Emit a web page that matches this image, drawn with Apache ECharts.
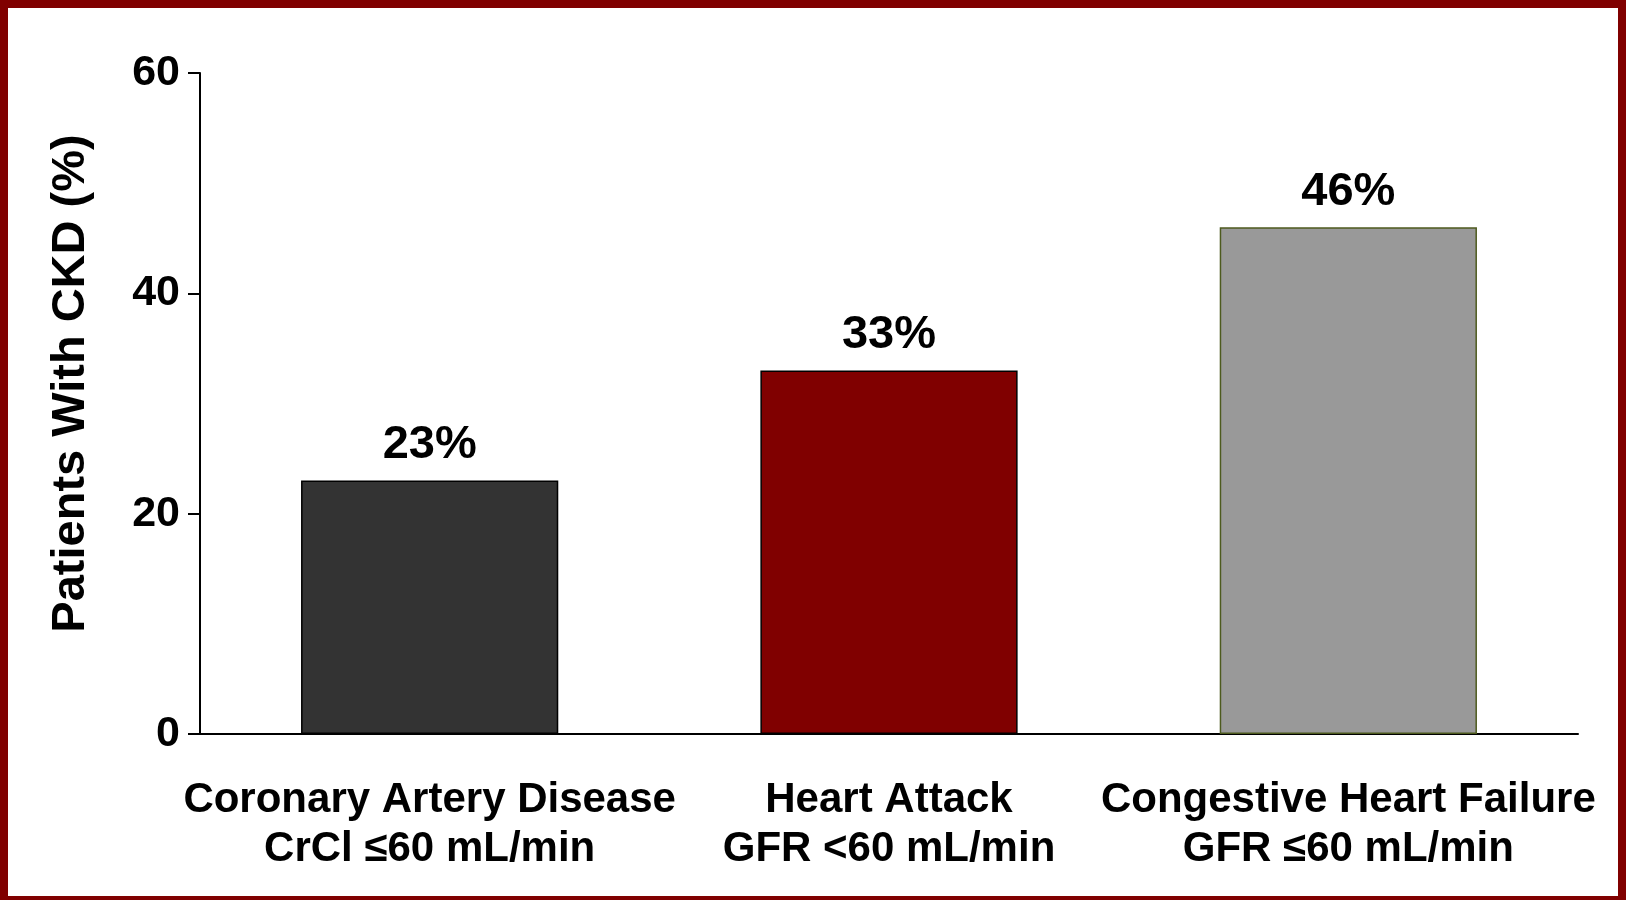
<!DOCTYPE html>
<html><head><meta charset="utf-8">
<script src="https://cdn.jsdelivr.net/npm/echarts@6/dist/echarts.min.js"></script>
<style>html,body{margin:0;padding:0;background:#fff}
#c{width:1626px;height:900px;box-sizing:border-box;border:8px solid #800000;border-bottom-width:4px}</style>
</head><body><div id="c"></div>
<script>
const categories = ["Coronary Artery Disease\nCrCl ≤60 mL/min", "Heart Attack\nGFR <60 mL/min", "Congestive Heart Failure\nGFR ≤60 mL/min"];
const values = [23, 33, 46];
const barColors = ["#333333", "#800000", "#999999"];
const barBorders = ["#000000", "#000000", "#4d5a1e"];
const yTicks = [0, 20, 40, 60];

const chart = echarts.init(document.getElementById("c"));
const font = "Liberation Sans, Arial, sans-serif";
chart.setOption({
  animation: false,
  grid: { left: 192, right: 40, top: 65, bottom: 162 },
  xAxis: {
    type: "category", data: categories,
    axisLine: { lineStyle: { color: "#000", width: 2 } },
    axisTick: { show: false },
    axisLabel: { color: "#000", fontFamily: font, fontWeight: "bold", fontSize: 42, lineHeight: 49, margin: 42, interval: 0 }
  },
  yAxis: {
    type: "value", min: 0, max: 60, interval: 20,
    name: "Patients With CKD (%)", nameLocation: "middle", nameGap: 105,
    nameTextStyle: { color: "#000", fontFamily: font, fontWeight: "bold", fontSize: 47, padding: [0, 0, 0, 40] },
    splitLine: { show: false },
    axisLine: { show: true, lineStyle: { color: "#000", width: 2 } },
    axisTick: { show: true, length: 12, lineStyle: { width: 2 } },
    axisLabel: { color: "#000", fontFamily: font, fontWeight: "bold", fontSize: 43, margin: 20,
      formatter: v => yTicks.includes(v) ? String(v) : "" }
  },
  series: [{
    type: "bar", barWidth: "56%",
    data: values.map((v, i) => ({ value: v, itemStyle: { color: barColors[i], borderColor: barBorders[i], borderWidth: 1.5 } })),
    label: { show: true, position: "top", distance: 12, formatter: "{c}%", color: "#000",
      fontFamily: font, fontWeight: "bold", fontSize: 47 }
  }]
});
</script></body></html>
